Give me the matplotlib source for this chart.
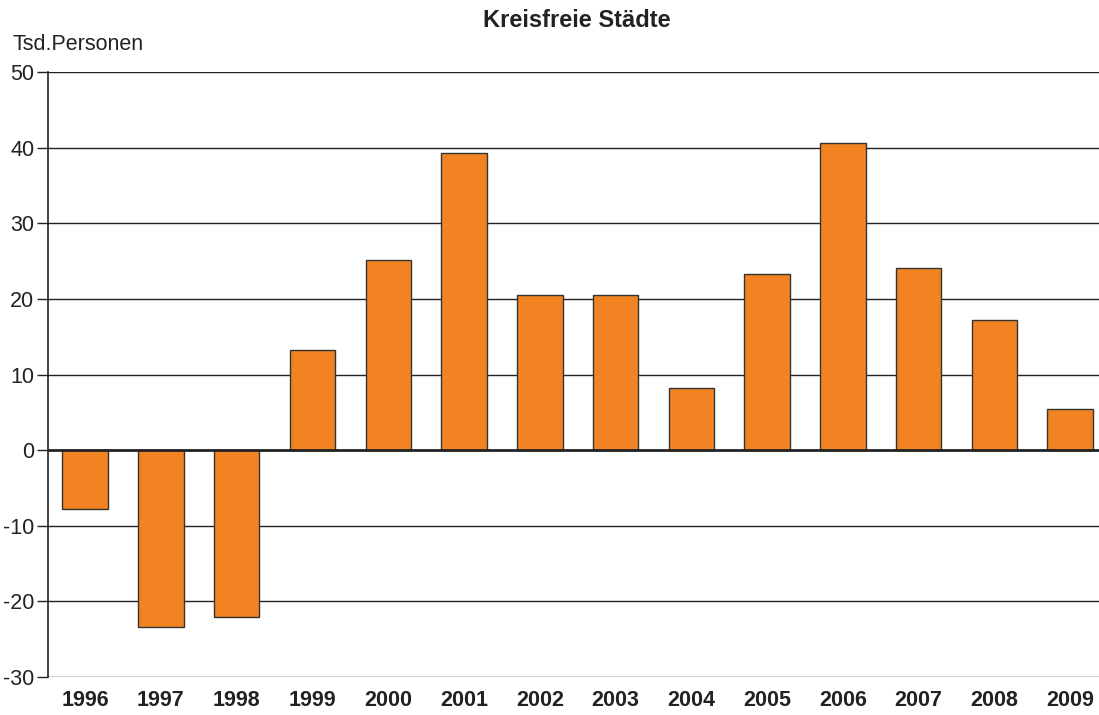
import matplotlib.pyplot as plt
import numpy as np

years = ['1996', '1997', '1998', '1999', '2000', '2001', '2002',
         '2003', '2004', '2005', '2006', '2007', '2008', '2009']
values = [-7.8, -23.4, -22.1, 13.3, 25.1, 39.3, 20.5,
          20.5, 8.2, 23.3, 40.7, 24.1, 17.2, 5.5]
yticks = [-30, -20, -10, 0, 10, 20, 30, 40, 50]

plt.rcParams['font.family'] = ['Liberation Sans', 'DejaVu Sans']

fig = plt.figure(figsize=(10.99, 7.15), dpi=100)
ax = fig.add_axes([0.0437, 0.053, 0.9563, 0.846])

x = np.arange(len(years))
ax.set_axisbelow(True)
for t in yticks:
    ax.axhline(t, color='#222222', lw=1.0 if t != 0 else 2.0, zorder=0 if t != 0 else 3)
ax.bar(x, values, width=0.6, color='#F28322', edgecolor='#333333', linewidth=1.0, zorder=2)

ax.set_xlim(-0.49, 13.38)
ax.set_ylim(-30, 50)
ax.set_yticks(yticks)
ax.set_yticklabels([str(t) for t in yticks], fontsize=15.5, color='#222222')
ax.set_xticks(x)
ax.set_xticklabels(years, fontsize=15.5, fontweight='bold', color='#222222')
ax.tick_params(axis='x', length=0, pad=9)
ax.tick_params(axis='y', length=8, width=1, color='#222222', pad=2)

for s in ['top', 'right', 'bottom']:
    ax.spines[s].set_visible(False)
ax.spines['left'].set_color('#222222')
ax.spines['left'].set_linewidth(1.2)

fig.text(0.525, 0.971, 'Kreisfreie Städte', ha='center', va='center',
         fontsize=17, fontweight='bold', color='#222222')
fig.text(0.011, 0.938, 'Tsd.Personen', ha='left', va='center',
         fontsize=15.5, color='#222222')

fig.savefig('out.png', dpi=100)
